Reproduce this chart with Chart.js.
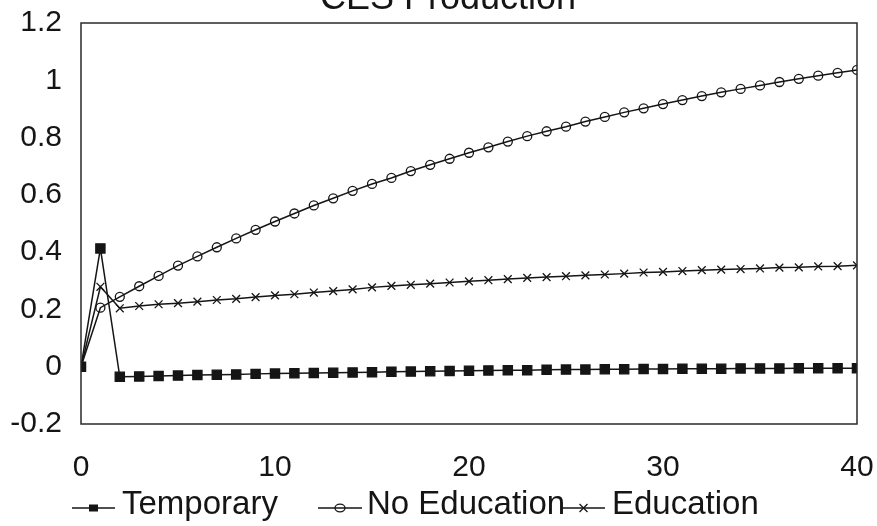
<!DOCTYPE html>
<html>
<head>
<meta charset="utf-8">
<script src="https://cdn.jsdelivr.net/npm/chart.js@4/dist/chart.umd.min.js"></script>
<style>
  html, body { margin: 0; padding: 0; background: #fff; }
  #wrap { width: 877px; height: 526px; position: relative; }
</style>
</head>
<body>
<div id="wrap"><canvas id="c"></canvas></div>
<script>
const chartTitle = 'CES Production';
const steps = [0,1,2,3,4,5,6,7,8,9,10,11,12,13,14,15,16,17,18,19,20,21,22,23,24,25,26,27,28,29,30,31,32,33,34,35,36,37,38,39,40];
const seriesNames = ['Temporary', 'No Education', 'Education'];
const temporary = [0, 0.413, -0.035, -0.034, -0.032, -0.031, -0.029, -0.028, -0.027, -0.025, -0.024, -0.023,
  -0.022, -0.021, -0.020, -0.019, -0.018, -0.017, -0.016, -0.015, -0.014, -0.013,
  -0.012, -0.012, -0.011, -0.010, -0.010, -0.009, -0.009, -0.008, -0.008, -0.007,
  -0.007, -0.007, -0.006, -0.006, -0.006, -0.005, -0.005, -0.005, -0.005];
const noEducation = [0, 0.206, 0.244, 0.281, 0.317, 0.353, 0.385, 0.417, 0.448, 0.478, 0.507,
  0.535, 0.563, 0.588, 0.614, 0.638, 0.659, 0.683, 0.705, 0.726, 0.747,
  0.766, 0.786, 0.805, 0.822, 0.838, 0.856, 0.872, 0.888, 0.902, 0.917,
  0.931, 0.945, 0.958, 0.970, 0.982, 0.994, 1.005, 1.016, 1.026, 1.036];
const education = [0, 0.279, 0.204, 0.212, 0.218, 0.222, 0.227, 0.233, 0.237, 0.243, 0.249,
  0.253, 0.259, 0.264, 0.270, 0.277, 0.282, 0.286, 0.290, 0.294, 0.298,
  0.302, 0.306, 0.310, 0.313, 0.316, 0.319, 0.322, 0.325, 0.329, 0.331,
  0.334, 0.337, 0.339, 0.341, 0.343, 0.346, 0.347, 0.350, 0.351, 0.354];
const xTicks = [0, 10, 20, 30, 40];
const yTicks = [-0.2, 0, 0.2, 0.4, 0.6, 0.8, 1, 1.2];

const FONT = '"Liberation Sans", Arial, Helvetica, sans-serif';
const INK = '#151515';

function pts(arr) { return steps.map((s, i) => ({ x: s, y: arr[i] })); }

const styles = [
  { pointStyle: 'rect', pointRadius: 6.5, backgroundColor: INK },
  { pointStyle: 'circle', pointRadius: 4.5, backgroundColor: 'rgba(255,255,255,0)' },
  { pointStyle: 'crossRot', pointRadius: 5.5, backgroundColor: INK }
];

function drawMarker(ctx, kind, x, y) {
  ctx.save();
  ctx.strokeStyle = INK; ctx.fillStyle = INK; ctx.lineWidth = 1.3;
  if (kind === 0) { ctx.fillRect(x - 4.5, y - 3.5, 9, 7); }
  else if (kind === 1) { ctx.beginPath(); ctx.ellipse(x, y, 5, 3.8, 0, 0, Math.PI * 2); ctx.stroke(); }
  else { ctx.beginPath(); ctx.moveTo(x - 4, y - 4); ctx.lineTo(x + 4, y + 4); ctx.moveTo(x + 4, y - 4); ctx.lineTo(x - 4, y + 4); ctx.stroke(); }
  ctx.restore();
}

const decor = {
  id: 'decor',
  afterDraw(chart) {
    const ctx = chart.ctx, a = chart.chartArea;
    ctx.save();
    ctx.strokeStyle = '#2a2a2a'; ctx.lineWidth = 1.5;
    ctx.strokeRect(a.left, a.top, a.right - a.left, a.bottom - a.top);
    ctx.fillStyle = INK;
    ctx.font = '36px ' + FONT;
    ctx.textAlign = 'center'; ctx.textBaseline = 'alphabetic';
    ctx.fillText(chartTitle, 448, 9);
    const ly = 508, ty = 514;
    const entries = [
      { x1: 72, x2: 115, tx: 122 },
      { x1: 318, x2: 362, tx: 367 },
      { x1: 562, x2: 605, tx: 612 }
    ];
    ctx.font = '33px ' + FONT;
    ctx.textAlign = 'left';
    chart.data.datasets.forEach((ds, i) => {
      const e = entries[i];
      ctx.strokeStyle = INK; ctx.lineWidth = 1.5;
      ctx.beginPath(); ctx.moveTo(e.x1, ly); ctx.lineTo(e.x2, ly); ctx.stroke();
      drawMarker(ctx, i, (e.x1 + e.x2) / 2, ly);
      ctx.fillStyle = INK;
      ctx.fillText(ds.label, e.tx, ty);
    });
    ctx.restore();
  }
};

new Chart(document.getElementById('c'), {
  type: 'line',
  data: {
    datasets: [temporary, noEducation, education].map((arr, i) => ({
      label: seriesNames[i],
      data: pts(arr),
      borderColor: INK,
      borderWidth: 1.5,
      pointBorderColor: INK,
      pointBorderWidth: 1.3,
      pointStyle: styles[i].pointStyle,
      pointRadius: styles[i].pointRadius,
      pointBackgroundColor: styles[i].backgroundColor,
      tension: 0,
      fill: false
    }))
  },
  options: {
    responsive: true,
    maintainAspectRatio: false,
    animation: false,
    layout: { padding: { top: 23, right: 20, left: 0, bottom: 0 } },
    plugins: { legend: { display: false }, title: { display: false }, tooltip: { enabled: false } },
    scales: {
      x: {
        type: 'linear', min: 0, max: 40,
        afterFit(s) { s.height = 102; s.paddingLeft = 0; s.paddingRight = 0; },
        afterBuildTicks(s) { s.ticks = xTicks.map(v => ({ value: v })); },
        grid: { display: false, drawTicks: false },
        border: { display: false },
        ticks: { color: INK, font: { family: FONT, size: 30 }, padding: 26, maxRotation: 0 }
      },
      y: {
        min: -0.2, max: 1.2,
        afterFit(s) { s.width = 81; s.paddingTop = 0; s.paddingBottom = 0; },
        afterBuildTicks(s) { s.ticks = yTicks.map(v => ({ value: v })); },
        grid: { display: false, drawTicks: false },
        border: { display: false },
        ticks: {
          color: INK, font: { family: FONT, size: 30 }, padding: 19,
          callback: v => String(Math.round(v * 10) / 10)
        }
      }
    }
  },
  plugins: [decor]
});
</script>
</body>
</html>
